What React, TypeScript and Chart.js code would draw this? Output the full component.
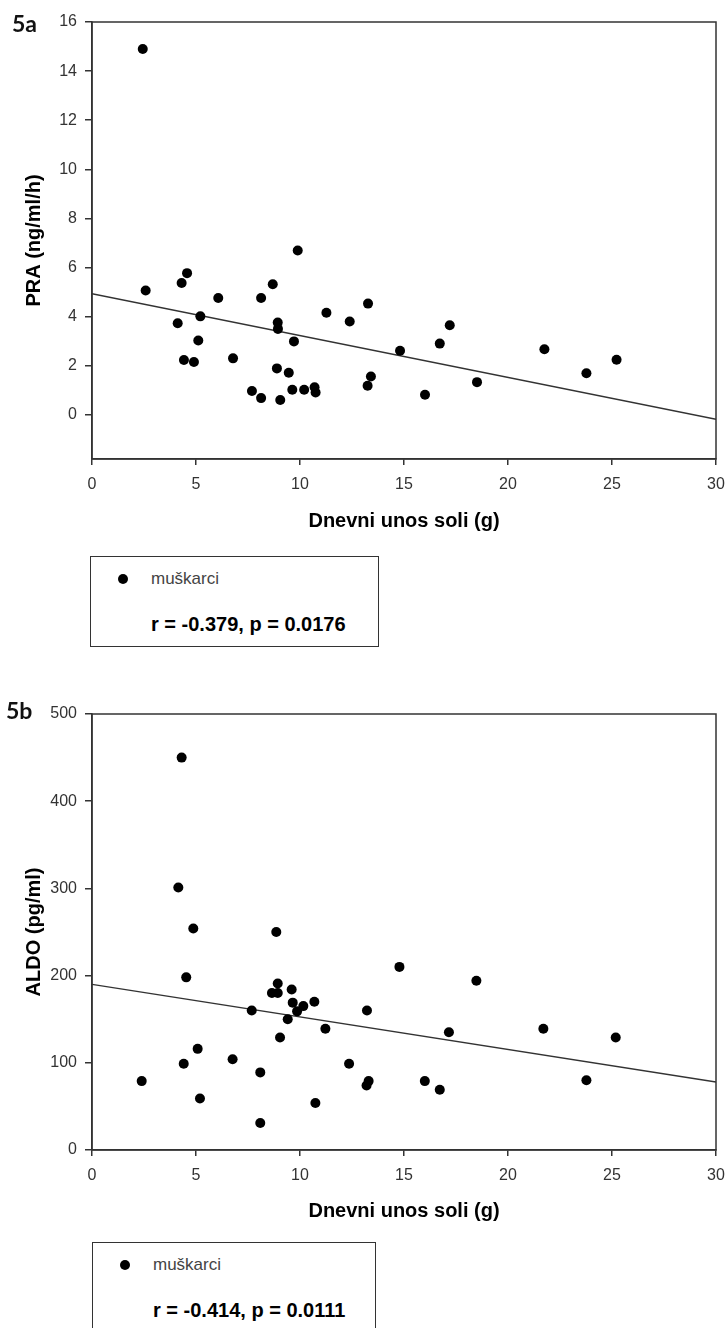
import React, { useEffect, useRef } from 'react';
import { Chart, registerables } from 'chart.js';

Chart.register(...registerables);

// ---- data ----
const X_TICKS = [0, 5, 10, 15, 20, 25, 30];
const X_TITLE = 'Dnevni unos soli (g)';
const SERIES_LABEL = 'muškarci';

const PRA_X = [2.44, 2.58, 4.31, 4.57, 4.12, 5.21, 5.11, 4.42, 4.9, 6.07, 6.78, 7.69, 8.13, 8.13, 8.69, 8.93, 8.94, 8.89, 9.05, 9.46, 9.71, 9.63, 9.89, 10.2, 10.7, 10.75, 11.27, 12.39, 13.27, 13.41, 13.25, 14.81, 16.01, 16.72, 17.2, 18.51, 21.75, 23.77, 25.22];
const PRA_Y = [14.9, 5.06, 5.37, 5.77, 3.73, 4.01, 3.03, 2.23, 2.15, 4.76, 2.3, 0.97, 0.68, 4.76, 5.32, 3.76, 3.5, 1.89, 0.6, 1.71, 2.99, 1.02, 6.69, 1.02, 1.12, 0.91, 4.16, 3.8, 4.53, 1.56, 1.18, 2.61, 0.82, 2.9, 3.65, 1.33, 2.67, 1.69, 2.24];
const PRA_FIT_X = [0, 30];
const PRA_FIT_Y = [4.93, -0.18];
const PRA_TICKS = [0, 2, 4, 6, 8, 10, 12, 14, 16];
const PRA_TITLE = 'PRA (ng/ml/h)';
const PRA_STATS = 'r = -0.379, p = 0.0176';

const ALDO_X = [4.31, 4.15, 4.87, 4.53, 8.86, 8.93, 8.65, 8.93, 9.6, 9.65, 10.16, 9.86, 10.69, 7.68, 9.41, 11.22, 9.04, 13.22, 14.78, 5.08, 18.48, 17.16, 21.7, 25.18, 4.41, 6.76, 12.36, 2.39, 8.09, 13.3, 13.2, 16.0, 16.72, 5.19, 10.74, 8.09, 23.77];
const ALDO_Y = [450, 301, 254, 198, 250, 191, 180, 180, 184, 169, 165, 159, 170, 160, 150, 139, 129, 160, 210, 116, 194, 135, 139, 129, 99, 104, 99, 79, 89, 79, 74, 79, 69, 59, 54, 31, 80];
const ALDO_FIT_X = [0, 30];
const ALDO_FIT_Y = [190, 78];
const ALDO_TICKS = [0, 100, 200, 300, 400, 500];
const ALDO_TITLE = 'ALDO (pg/ml)';
const ALDO_STATS = 'r = -0.414, p = 0.0111';

const FONT = '"Liberation Sans", Arial, sans-serif';

const framePlugin = {
  id: 'frame',
  afterDatasetsDraw(chart: any) {
    const { ctx, chartArea } = chart;
    const { left, top, right, bottom } = chartArea;
    ctx.save();
    ctx.strokeStyle = '#333';
    ctx.lineWidth = 1.5;
    ctx.strokeRect(left, top, right - left, bottom - top);
    ctx.restore();
  },
};

type PanelProps = {
  xs: number[];
  ys: number[];
  fitX: number[];
  fitY: number[];
  yTicks: number[];
  yMin: number;
  yMax: number;
  yTitle: string;
  width: number;
  height: number;
  padTop: number;
  xScaleHeight: number;
};

function ScatterPanel(p: PanelProps) {
  const ref = useRef<HTMLCanvasElement | null>(null);
  useEffect(() => {
    if (!ref.current) return;
    const chart = new Chart(ref.current, {
      type: 'scatter',
      data: {
        datasets: [
          {
            type: 'scatter',
            label: SERIES_LABEL,
            data: p.xs.map((x, i) => ({ x, y: p.ys[i] })),
            pointRadius: 5,
            pointBackgroundColor: '#000',
            pointBorderColor: '#000',
            pointBorderWidth: 0,
          },
          {
            type: 'line',
            label: 'fit',
            data: p.fitX.map((x, i) => ({ x, y: p.fitY[i] })),
            borderColor: '#333',
            borderWidth: 1.4,
            pointRadius: 0,
            fill: false,
          },
        ],
      } as any,
      options: {
        animation: false,
        responsive: false,
        maintainAspectRatio: false,
        layout: { padding: { top: p.padTop, right: 10, left: 0, bottom: 0 } },
        plugins: { legend: { display: false }, tooltip: { enabled: false } },
        scales: {
          x: {
            type: 'linear',
            min: 0,
            max: 30,
            afterBuildTicks: (a: any) => {
              a.ticks = X_TICKS.map((v) => ({ value: v }));
            },
            afterFit: (s: any) => {
              s.height = p.xScaleHeight;
              s.paddingLeft = 0;
              s.paddingRight = 0;
            },
            border: { display: true, color: '#333', width: 1.5 },
            grid: { drawOnChartArea: false, drawTicks: true, tickLength: 6, color: '#333', lineWidth: 1.5 },
            ticks: { font: { size: 16, family: FONT }, color: '#333', padding: 10, maxRotation: 0, autoSkip: false },
            title: {
              display: true,
              text: X_TITLE,
              color: '#000',
              font: { size: 20, weight: 'bold', family: FONT },
              padding: { top: 0, bottom: 7 },
            },
          },
          y: {
            type: 'linear',
            min: p.yMin,
            max: p.yMax,
            afterBuildTicks: (a: any) => {
              a.ticks = p.yTicks.map((v) => ({ value: v }));
            },
            afterFit: (s: any) => {
              s.width = 92;
              s.paddingTop = 0;
              s.paddingBottom = 0;
            },
            border: { display: true, color: '#333', width: 1.5 },
            grid: { drawOnChartArea: false, drawTicks: true, tickLength: 7, color: '#333', lineWidth: 1.5 },
            ticks: { font: { size: 16, family: FONT }, color: '#333', padding: 8, autoSkip: false },
            title: {
              display: true,
              text: p.yTitle,
              color: '#000',
              font: { size: 20, weight: 'bold', family: FONT },
              padding: { top: 22, bottom: 0 },
            },
          },
        },
      } as any,
      plugins: [framePlugin],
    });
    return () => chart.destroy();
  }, []);
  return <canvas ref={ref} width={p.width} height={p.height} style={{ display: 'block', width: p.width, height: p.height }} />;
}

function Legend({ left, top, width, height, stats }: { left: number; top: number; width: number; height: number; stats: string }) {
  return (
    <div
      style={{
        position: 'absolute',
        left,
        top,
        width,
        height,
        border: '1.5px solid #333',
        boxSizing: 'border-box',
        fontFamily: FONT,
      }}
    >
      <span
        style={{
          position: 'absolute',
          left: 27,
          top: 17,
          width: 10,
          height: 10,
          borderRadius: '50%',
          background: '#000',
        }}
      />
      <span style={{ position: 'absolute', left: 60, top: 10, fontSize: 17, lineHeight: '24px', color: '#444', whiteSpace: 'nowrap' }}>
        {SERIES_LABEL}
      </span>
      <span style={{ position: 'absolute', left: 60, top: 54, fontSize: 20, lineHeight: '26px', fontWeight: 'bold', color: '#000', whiteSpace: 'nowrap' }}>
        {stats}
      </span>
    </div>
  );
}

export default function App() {
  return (
    <div style={{ position: 'absolute', left: 0, top: 0, width: 726, height: 1328, overflow: 'hidden', background: '#fff' }}>
      <div style={{ position: 'absolute', left: 0, top: 0 }}>
        <ScatterPanel
          xs={PRA_X}
          ys={PRA_Y}
          fitX={PRA_FIT_X}
          fitY={PRA_FIT_Y}
          yTicks={PRA_TICKS}
          yMin={-1.8}
          yMax={16}
          yTitle={PRA_TITLE}
          width={726}
          height={540}
          padTop={22}
          xScaleHeight={81}
        />
      </div>
      <div style={{ position: 'absolute', left: 0, top: 650 }}>
        <ScatterPanel
          xs={ALDO_X}
          ys={ALDO_Y}
          fitX={ALDO_FIT_X}
          fitY={ALDO_FIT_Y}
          yTicks={ALDO_TICKS}
          yMin={0}
          yMax={500}
          yTitle={ALDO_TITLE}
          width={726}
          height={580}
          padTop={64}
          xScaleHeight={80}
        />
      </div>
      <div style={{ position: 'absolute', left: 12, top: 10, fontFamily: 'Lato, "Open Sans", sans-serif', fontWeight: 'bold', fontSize: 23, lineHeight: '26px', color: '#111' }}>
        5a
      </div>
      <div style={{ position: 'absolute', left: 6, top: 697, fontFamily: 'Lato, "Open Sans", sans-serif', fontWeight: 'bold', fontSize: 23, lineHeight: '26px', color: '#111' }}>
        5b
      </div>
      <Legend left={90} top={556} width={289} height={91} stats={PRA_STATS} />
      <Legend left={92} top={1242} width={284} height={100} stats={ALDO_STATS} />
    </div>
  );
}
